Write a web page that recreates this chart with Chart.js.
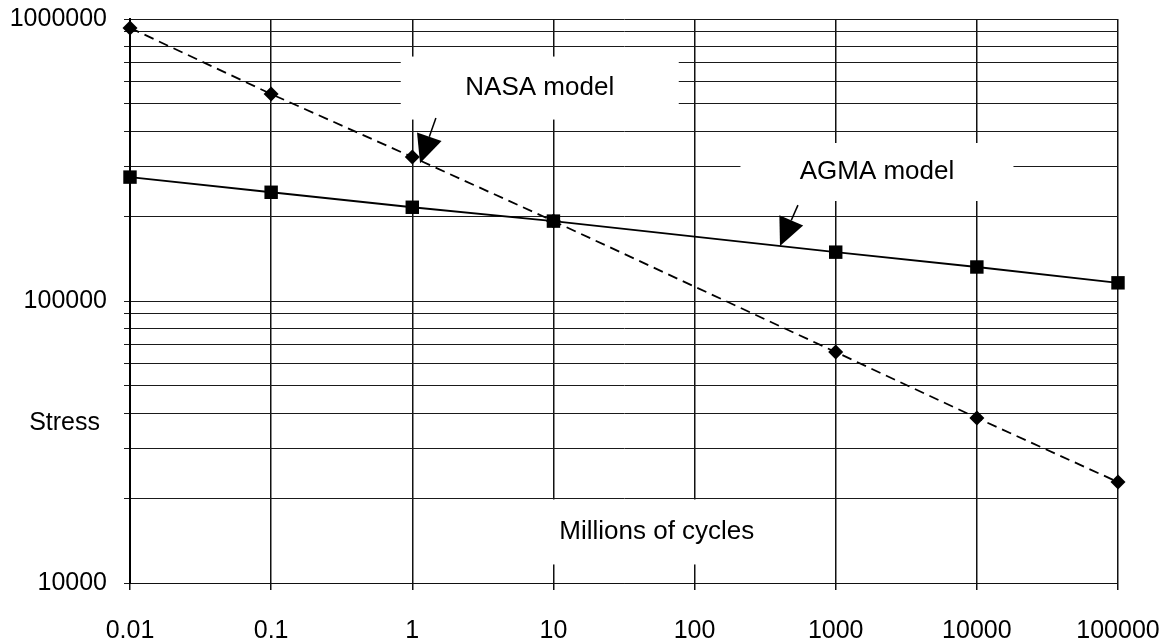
<!DOCTYPE html>
<html>
<head>
<meta charset="utf-8">
<script src="https://cdn.jsdelivr.net/npm/chart.js@4.4.1/dist/chart.umd.min.js"></script>
<style>
  html, body { margin: 0; padding: 0; background: #fff; }
  #wrap { width: 1165px; height: 641px; position: relative; }
</style>
</head>
<body>
<div id="wrap"><canvas id="snChart"></canvas></div>
<script>
// ─── Data (millions of cycles vs stress, no reading at 100) ──────────────────
const cycles = [0.01, 0.1, 1, 10, 1000, 10000, 100000];
const nasaStress = [930000, 542000, 324000, 192000, 65900, 38500, 22800];
const agmaStress = [275000, 243000, 215000, 192000, 149000, 132000, 116000];

const xTickValues = [0.01, 0.1, 1, 10, 100, 1000, 10000, 100000];
const yMajorTicks = [10000, 100000, 1000000];
const yMinorSteps = [2, 3, 4, 5, 6, 7, 8, 9];

// Text boxes inside the plot (data units), white box hides the grid
const notes = [
  { text: 'NASA model', x: 8.0, y: 569000, boxW: 278, boxH: 63 },
  { text: 'AGMA model', x: 1960, y: 286700, boxW: 273, boxH: 58 },
  { text: 'Millions of cycles', x: 54, y: 15170, boxW: 280, boxH: 65 },
];

// Arrows pointing at the curves: from -> tip (data units)
const arrows = [
  { from: [1.47, 446000], to: [1.135, 308000] },
  { from: [540, 218800], to: [403, 156700] },
];

const yTitle = { text: 'Stress', y: 37000 };

const FONT = '"Liberation Sans", Arial, Helvetica, sans-serif';
Chart.defaults.font.family = FONT;
Chart.defaults.font.size = 25;
Chart.defaults.color = '#000';

function toPoints(xs, ys) {
  return xs.map((x, i) => ({ x: x, y: ys[i] }));
}

// ─── Annotation plugin ──────────────────────────────────────────────────────
const notesPlugin = {
  id: 'notes',
  beforeDatasetsDraw(chart) {
    const { ctx, scales: { x, y } } = chart;
    ctx.save();
    ctx.fillStyle = '#fff';
    notes.forEach(n => {
      const cx = x.getPixelForValue(n.x);
      const cy = y.getPixelForValue(n.y);
      ctx.fillRect(cx - n.boxW / 2, cy - n.boxH / 2, n.boxW, n.boxH);
    });
    ctx.restore();
  },
  afterDraw(chart) {
    const { ctx, chartArea, scales: { x, y } } = chart;
    ctx.save();
    ctx.fillStyle = '#000';
    ctx.font = '26px ' + FONT;
    ctx.textAlign = 'center';
    ctx.textBaseline = 'middle';
    notes.forEach(n => {
      ctx.fillText(n.text, x.getPixelForValue(n.x), y.getPixelForValue(n.y));
    });

    // y title sits left of the axis, level with ~37000
    ctx.font = '25px ' + FONT;
    ctx.textAlign = 'right';
    ctx.fillText(yTitle.text, chartArea.left - 30, y.getPixelForValue(yTitle.y));

    // arrows
    ctx.strokeStyle = '#000';
    ctx.lineWidth = 1.5;
    arrows.forEach(a => {
      const x0 = x.getPixelForValue(a.from[0]), y0 = y.getPixelForValue(a.from[1]);
      const x1 = x.getPixelForValue(a.to[0]), y1 = y.getPixelForValue(a.to[1]);
      const len = Math.hypot(x1 - x0, y1 - y0);
      const ux = (x1 - x0) / len, uy = (y1 - y0) / len;
      const headLen = 28, halfW = 13;
      const bx = x1 - ux * headLen, by = y1 - uy * headLen;
      ctx.beginPath();
      ctx.moveTo(x0, y0);
      ctx.lineTo(bx, by);
      ctx.stroke();
      ctx.beginPath();
      ctx.moveTo(x1, y1);
      ctx.lineTo(bx - uy * halfW, by + ux * halfW);
      ctx.lineTo(bx + uy * halfW, by - ux * halfW);
      ctx.closePath();
      ctx.fill();
    });
    ctx.restore();
  }
};

// ─── Chart ──────────────────────────────────────────────────────────────────
const ctx = document.getElementById('snChart').getContext('2d');

new Chart(ctx, {
  type: 'line',
  data: {
    datasets: [
      {
        label: 'AGMA model',
        data: toPoints(cycles, agmaStress),
        borderColor: '#000',
        borderWidth: 1.8,
        pointStyle: 'rect',
        pointRadius: 9.5,
        pointBackgroundColor: '#000',
        pointBorderWidth: 0,
        clip: false,
        order: 0,
      },
      {
        label: 'NASA model',
        data: toPoints(cycles, nasaStress),
        borderColor: '#000',
        borderWidth: 1.8,
        borderDash: [10, 6],
        pointStyle: 'rectRot',
        pointRadius: 7.5,
        pointBackgroundColor: '#000',
        pointBorderWidth: 0,
        clip: false,
        order: 1,
      }
    ]
  },
  options: {
    responsive: true,
    maintainAspectRatio: false,
    animation: false,
    layout: { padding: { left: 0, right: 47, top: 19, bottom: 0 } },
    plugins: {
      legend: { display: false },
      tooltip: { enabled: false },
    },
    scales: {
      x: {
        type: 'logarithmic',
        min: 0.01,
        max: 100000,
        afterBuildTicks: scale => {
          scale.ticks = xTickValues.map(v => ({ value: v, major: true }));
        },
        afterFit: scale => {
          scale.height = 58;
          scale.paddingLeft = 0;
          scale.paddingRight = 0;
        },
        ticks: {
          autoSkip: false,
          maxRotation: 0,
          minRotation: 0,
          padding: 26,
          color: '#000',
          callback: v => String(v),
        },
        grid: { color: '#111', lineWidth: 1.5, tickLength: 7 },
        border: { display: true, color: '#111', width: 1 },
      },
      y: {
        type: 'logarithmic',
        min: 10000,
        max: 1000000,
        afterBuildTicks: scale => {
          const ticks = [];
          for (let i = 0; i < yMajorTicks.length - 1; i++) {
            ticks.push({ value: yMajorTicks[i], major: true });
            yMinorSteps.forEach(m => ticks.push({ value: yMajorTicks[i] * m }));
          }
          ticks.push({ value: yMajorTicks[yMajorTicks.length - 1], major: true });
          scale.ticks = ticks;
        },
        afterFit: scale => {
          scale.width = 130;
          scale.paddingTop = 0;
          scale.paddingBottom = 0;
        },
        ticks: {
          autoSkip: false,
          padding: 17,
          color: '#000',
          callback: v => (yMajorTicks.includes(v) ? String(v) : ''),
        },
        grid: { color: '#1a1a1a', lineWidth: 1, tickLength: 6 },
        border: { display: true, color: '#000', width: 2 },
      }
    }
  },
  plugins: [notesPlugin]
});
</script>
</body>
</html>
